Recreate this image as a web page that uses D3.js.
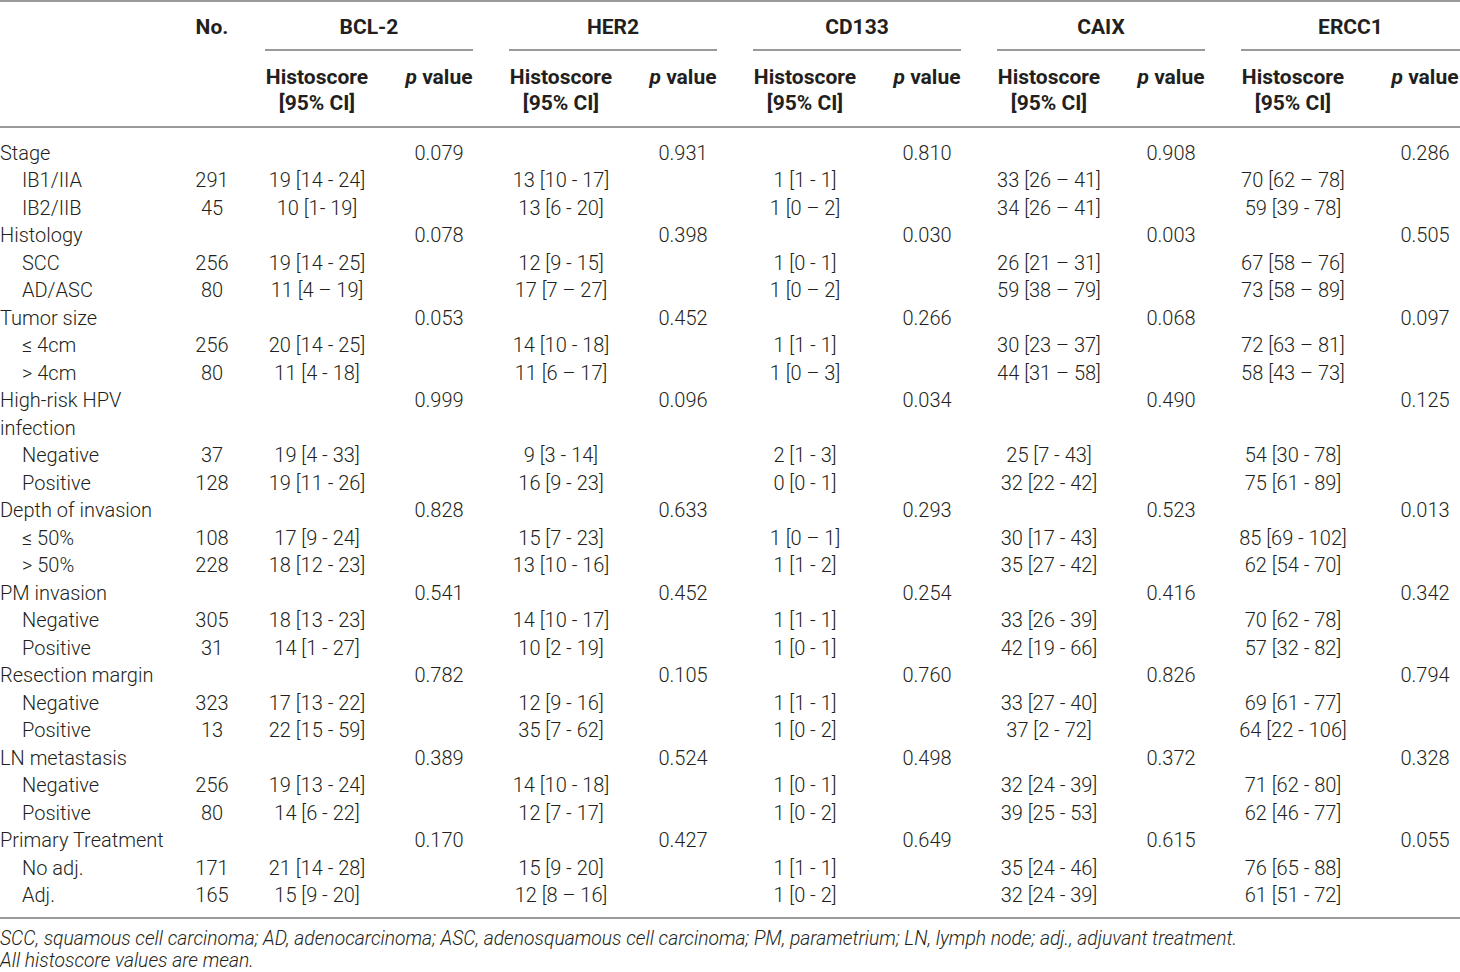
<!DOCTYPE html>
<html>
<head>
<meta charset="utf-8">
<script src="https://cdn.jsdelivr.net/npm/d3@7"></script>
<style>
  body { margin: 0; background: #fff; }
  svg { display: block; }
  text { font-family: Roboto, "Liberation Sans", sans-serif; fill: #231f20; }
</style>
</head>
<body>
<div id="table"></div>
<script>
// Row labels, indent level and kind (cat = category with p value, sub = level, cont = wrapped label)
const rowLabels = ["Stage", "IB1/IIA", "IB2/IIB", "Histology", "SCC", "AD/ASC", "Tumor size", "≤ 4cm", "> 4cm",
  "High-risk HPV", "infection", "Negative", "Positive", "Depth of invasion", "≤ 50%", "> 50%", "PM invasion",
  "Negative", "Positive", "Resection margin", "Negative", "Positive", "LN metastasis", "Negative", "Positive",
  "Primary Treatment", "No adj.", "Adj."];
const rowKinds = ["cat", "sub", "sub", "cat", "sub", "sub", "cat", "sub", "sub", "cat", "cont", "sub", "sub",
  "cat", "sub", "sub", "cat", "sub", "sub", "cat", "sub", "sub", "cat", "sub", "sub", "cat", "sub", "sub"];

// Number of patients per level (sub rows only)
const nValues = [291, 45, 256, 80, 256, 80, 37, 128, 108, 228, 305, 31, 323, 13, 256, 80, 171, 165];

const markers = ["BCL-2", "HER2", "CD133", "CAIX", "ERCC1"];

// Histoscore [95% CI] per level
const bcl2Scores = ["19 [14 - 24]", "10 [1- 19]", "19 [14 - 25]", "11 [4 – 19]", "20 [14 - 25]", "11 [4 - 18]",
  "19 [4 - 33]", "19 [11 - 26]", "17 [9 - 24]", "18 [12 - 23]", "18 [13 - 23]", "14 [1 - 27]",
  "17 [13 - 22]", "22 [15 - 59]", "19 [13 - 24]", "14 [6 - 22]", "21 [14 - 28]", "15 [9 - 20]"];
const her2Scores = ["13 [10 - 17]", "13 [6 - 20]", "12 [9 - 15]", "17 [7 – 27]", "14 [10 - 18]", "11 [6 – 17]",
  "9 [3 - 14]", "16 [9 - 23]", "15 [7 - 23]", "13 [10 - 16]", "14 [10 - 17]", "10 [2 - 19]",
  "12 [9 - 16]", "35 [7 - 62]", "14 [10 - 18]", "12 [7 - 17]", "15 [9 - 20]", "12 [8 – 16]"];
const cd133Scores = ["1 [1 - 1]", "1 [0 – 2]", "1 [0 - 1]", "1 [0 – 2]", "1 [1 - 1]", "1 [0 – 3]",
  "2 [1 - 3]", "0 [0 - 1]", "1 [0 – 1]", "1 [1 - 2]", "1 [1 - 1]", "1 [0 - 1]",
  "1 [1 - 1]", "1 [0 - 2]", "1 [0 - 1]", "1 [0 - 2]", "1 [1 - 1]", "1 [0 - 2]"];
const caixScores = ["33 [26 – 41]", "34 [26 – 41]", "26 [21 – 31]", "59 [38 – 79]", "30 [23 – 37]", "44 [31 – 58]",
  "25 [7 - 43]", "32 [22 - 42]", "30 [17 - 43]", "35 [27 - 42]", "33 [26 - 39]", "42 [19 - 66]",
  "33 [27 - 40]", "37 [2 - 72]", "32 [24 - 39]", "39 [25 - 53]", "35 [24 - 46]", "32 [24 - 39]"];
const ercc1Scores = ["70 [62 – 78]", "59 [39 - 78]", "67 [58 – 76]", "73 [58 – 89]", "72 [63 – 81]", "58 [43 – 73]",
  "54 [30 - 78]", "75 [61 - 89]", "85 [69 - 102]", "62 [54 - 70]", "70 [62 - 78]", "57 [32 - 82]",
  "69 [61 - 77]", "64 [22 - 106]", "71 [62 - 80]", "62 [46 - 77]", "76 [65 - 88]", "61 [51 - 72]"];

// p values per category
const bcl2P = ["0.079", "0.078", "0.053", "0.999", "0.828", "0.541", "0.782", "0.389", "0.170"];
const her2P = ["0.931", "0.398", "0.452", "0.096", "0.633", "0.452", "0.105", "0.524", "0.427"];
const cd133P = ["0.810", "0.030", "0.266", "0.034", "0.293", "0.254", "0.760", "0.498", "0.649"];
const caixP = ["0.908", "0.003", "0.068", "0.490", "0.523", "0.416", "0.826", "0.372", "0.615"];
const ercc1P = ["0.286", "0.505", "0.097", "0.125", "0.013", "0.342", "0.794", "0.328", "0.055"];

const footnotes = [
  "SCC, squamous cell carcinoma; AD, adenocarcinoma; ASC, adenosquamous cell carcinoma; PM, parametrium; LN, lymph node; adj., adjuvant treatment.",
  "All histoscore values are mean."
];

const scores = [bcl2Scores, her2Scores, cd133Scores, caixScores, ercc1Scores];
const pvals = [bcl2P, her2P, cd133P, caixP, ercc1P];

// Build cell records
const cells = [];
let si = 0, ci = 0;
rowLabels.forEach((label, r) => {
  const kind = rowKinds[r];
  cells.push({ row: r, col: "label", text: label, indent: kind === "sub" });
  if (kind === "sub") {
    cells.push({ row: r, col: "n", text: String(nValues[si]) });
    markers.forEach((m, k) => cells.push({ row: r, col: "hs", marker: m, text: scores[k][si] }));
    si++;
  } else if (kind === "cat") {
    markers.forEach((m, k) => cells.push({ row: r, col: "p", marker: m, text: pvals[k][ci] }));
    ci++;
  }
});

// Canvas
const width = 1460;
const height = 972;

const svg = d3.select("#table")
  .append("svg")
  .attr("width", width)
  .attr("height", height);

// Scales
const y = d3.scaleLinear().domain([0, rowLabels.length - 1]).range([153, 895]);
const groupX = d3.scaleBand().domain(markers).range([265, 265 + 244 * markers.length]);
const noX = 212;
const hsX = m => groupX(m) + 52;
const pX = m => m === "ERCC1" ? 1425 : groupX(m) + 174;

const fontSize = 20;
const lineColor = "#9a9a9a";

// Rules
function rule(x1, x2, yy) {
  svg.append("line")
    .attr("x1", x1).attr("x2", x2)
    .attr("y1", yy).attr("y2", yy)
    .attr("stroke", lineColor)
    .attr("stroke-width", 2);
}
rule(0, width, 1);
rule(0, width, 127);
rule(0, width, 918);
markers.forEach(m => {
  const x0 = groupX(m);
  rule(x0, m === "ERCC1" ? width : x0 + 208, 50);
});

// Header
const header = svg.append("g").attr("font-weight", "bold").attr("font-size", 21).attr("text-anchor", "middle");
header.append("text").attr("x", noX).attr("y", 34).text("No.");
markers.forEach(m => {
  const x0 = groupX(m);
  const x1 = m === "ERCC1" ? width : x0 + 208;
  header.append("text").attr("x", (x0 + x1) / 2).attr("y", 34).text(m);
  header.append("text").attr("x", hsX(m)).attr("y", 84).text("Histoscore");
  header.append("text").attr("x", hsX(m)).attr("y", 110).text("[95% CI]");
  const pv = header.append("text").attr("x", pX(m)).attr("y", 84);
  pv.append("tspan").attr("font-style", "italic").text("p");
  pv.append("tspan").text(" value");
});

// Body
svg.append("g")
  .attr("font-size", fontSize)
  .attr("font-weight", 300)
  .selectAll("text")
  .data(cells)
  .join("text")
  .attr("x", d => d.col === "label" ? (d.indent ? 22 : 0)
    : d.col === "n" ? noX
    : d.col === "hs" ? hsX(d.marker) : pX(d.marker))
  .attr("y", d => y(d.row) + 7)
  .attr("text-anchor", d => d.col === "label" ? "start" : "middle")
  .text(d => d.text);

// Footnotes
svg.append("g")
  .attr("font-size", 19.3)
  .attr("font-style", "italic")
  .attr("font-weight", 300)
  .selectAll("text")
  .data(footnotes)
  .join("text")
  .attr("x", 0)
  .attr("y", (d, i) => 945 + i * 22)
  .text(d => d);
</script>
</body>
</html>
